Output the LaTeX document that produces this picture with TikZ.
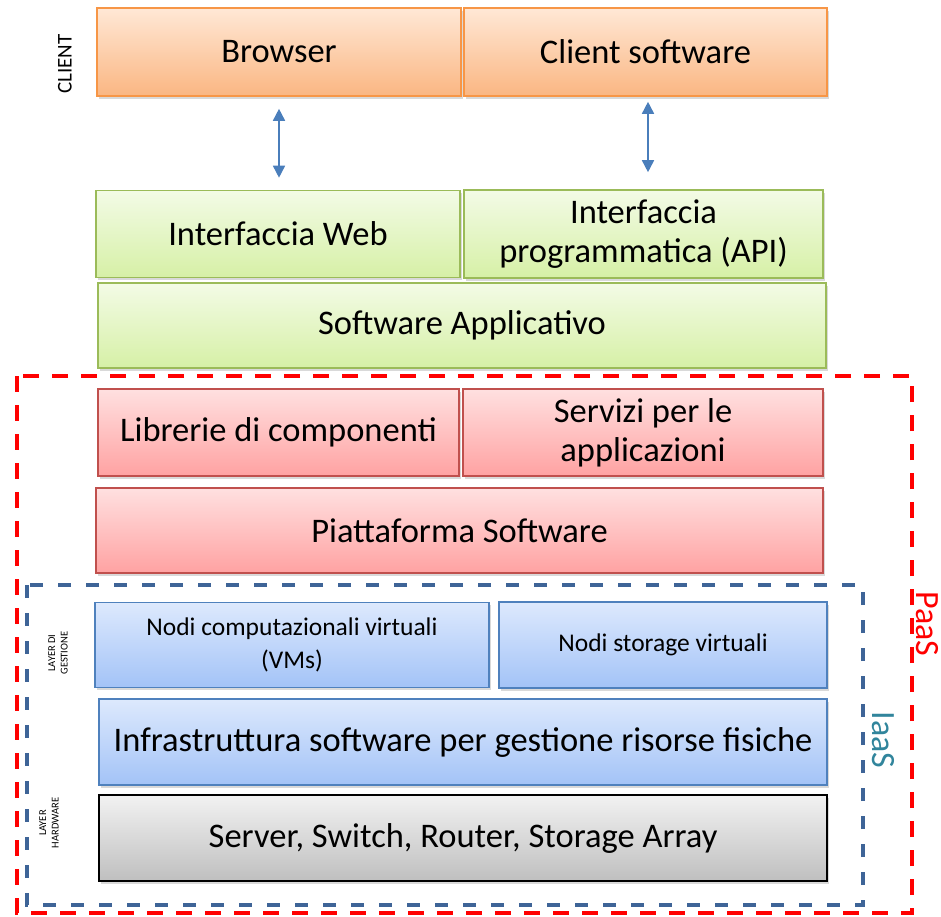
\documentclass[tikz,border=0pt]{standalone}
\usepackage{fontspec}
\setmainfont{Carlito}
\usetikzlibrary{arrows.meta,shadows}
\definecolor{orBorder}{HTML}{F79646}
\definecolor{orTop}{HTML}{FFE8D6}
\definecolor{orBot}{HTML}{FAB682}
\definecolor{grBorder}{HTML}{9BBB59}
\definecolor{grTop}{HTML}{F3FBE6}
\definecolor{grBot}{HTML}{D6F0A6}
\definecolor{rdBorder}{HTML}{C0504D}
\definecolor{rdTop}{HTML}{FFE0E0}
\definecolor{rdBot}{HTML}{FFA2A2}
\definecolor{blBorder}{HTML}{4F81BD}
\definecolor{blTop}{HTML}{DDE9FD}
\definecolor{blBot}{HTML}{A3C3F7}
\definecolor{gyTop}{HTML}{F2F2F2}
\definecolor{gyBot}{HTML}{BFBFBF}
\definecolor{paasRed}{HTML}{FF0000}
\definecolor{iaasBlue}{HTML}{3E6497}
\definecolor{iaasText}{HTML}{31859C}
\definecolor{arrBlue}{HTML}{4A7EBB}
\tikzset{
  layer/.style={draw, line width=1.6pt, inner sep=2pt, align=center,
    font=\fontsize{34.5}{39}\selectfont,
    drop shadow={opacity=0.3, shadow xshift=2pt, shadow yshift=-2.5pt}},
  orangebox/.style={layer, draw=orBorder, top color=orTop, bottom color=orBot},
  greenbox/.style={layer, draw=grBorder, top color=grTop, bottom color=grBot},
  redbox/.style={layer, draw=rdBorder, top color=rdTop, bottom color=rdBot},
  bluebox/.style={layer, draw=blBorder, top color=blTop, bottom color=blBot},
  graybox/.style={layer, draw=black, top color=gyTop, bottom color=gyBot},
  dims/.style 2 args={minimum width=#1pt, minimum height=#2pt},
  linkarrow/.style={draw=arrBlue, line width=1.6pt,
    {Triangle[width=12pt,length=12pt]}-{Triangle[width=12pt,length=12pt]}},
  paasframe/.style={draw=paasRed, line width=4.5pt, dash pattern=on 16pt off 13pt},
  iaasframe/.style={draw=iaasBlue, line width=4pt, dash pattern=on 13pt off 15pt},
  sidelabel/.style={font=\fontsize{21}{23}\selectfont, rotate=90},
  smalllabel/.style={font=\fontsize{10.5}{12.5}\selectfont, rotate=90, align=center},
  servicelabel/.style={font=\fontsize{34}{36}\selectfont, rotate=-90}
}
\begin{document}
\begin{tikzpicture}[x=1pt,y=-1pt]
\useasboundingbox (0,0) rectangle (941,916);
% dashed frames
\draw[paasframe] (17,376) rectangle (912,913);
\draw[iaasframe] (27,585) rectangle (863,905);
% client layer
\node[orangebox, dims={364}{88}] (browser) at (279,52) {Browser};
\node[orangebox, dims={363}{88}] (clientsw) at (645.5,52) {Client software};
% application layer
\node[greenbox, dims={364}{87}] (iweb) at (278,234) {Interfaccia Web};
\node[greenbox, dims={359}{88}] (iapi) at (643.5,234) {Interfaccia\\programmatica (API)};
\node[greenbox, dims={728}{85}] (swapp) at (462,325.5) {Software Applicativo};
% platform layer
\node[redbox, dims={361}{87}] (libr) at (278.5,432.5) {Librerie di componenti};
\node[redbox, dims={360}{87}] (serv) at (643,432.5) {Servizi per le\\applicazioni};
\node[redbox, dims={727}{85}] (piatt) at (459.5,530.5) {Piattaforma Software};
% infrastructure layer
\node[bluebox, dims={394}{85}, font=\fontsize{25.5}{33}\selectfont] (nodic) at (292,645) {Nodi computazionali virtuali\\(VMs)};
\node[bluebox, dims={328}{86}, font=\fontsize{25.5}{33}\selectfont] (nodis) at (663,645) {Nodi storage virtuali};
\node[bluebox, dims={728}{86}] (infra) at (463,742) {Infrastruttura software per gestione risorse fisiche};
\node[graybox, dims={728}{86}] (server) at (463,838) {Server, Switch, Router, Storage Array};
% connectors
\draw[linkarrow, shorten <=12pt, shorten >=12pt] (browser.south) -- (browser.south |- iweb.north);
\draw[linkarrow, shorten <=5pt, shorten >=17pt] ([xshift=2.5pt]clientsw.south) -- ([xshift=2.5pt]clientsw.south |- iapi.north);
% labels
\node[sidelabel] (lclient) at (65,64) {CLIENT};
\node[smalllabel] (lgest) at (58,653) {LAYER DI\\GESTIONE};
\node[smalllabel] (lhw) at (49,823) {LAYER\\HARDWARE};
\node[servicelabel, text=paasRed] (lpaas) at (927,624) {PaaS};
\node[servicelabel, text=iaasText] (liaas) at (883,740) {IaaS};
\end{tikzpicture}
\end{document}
